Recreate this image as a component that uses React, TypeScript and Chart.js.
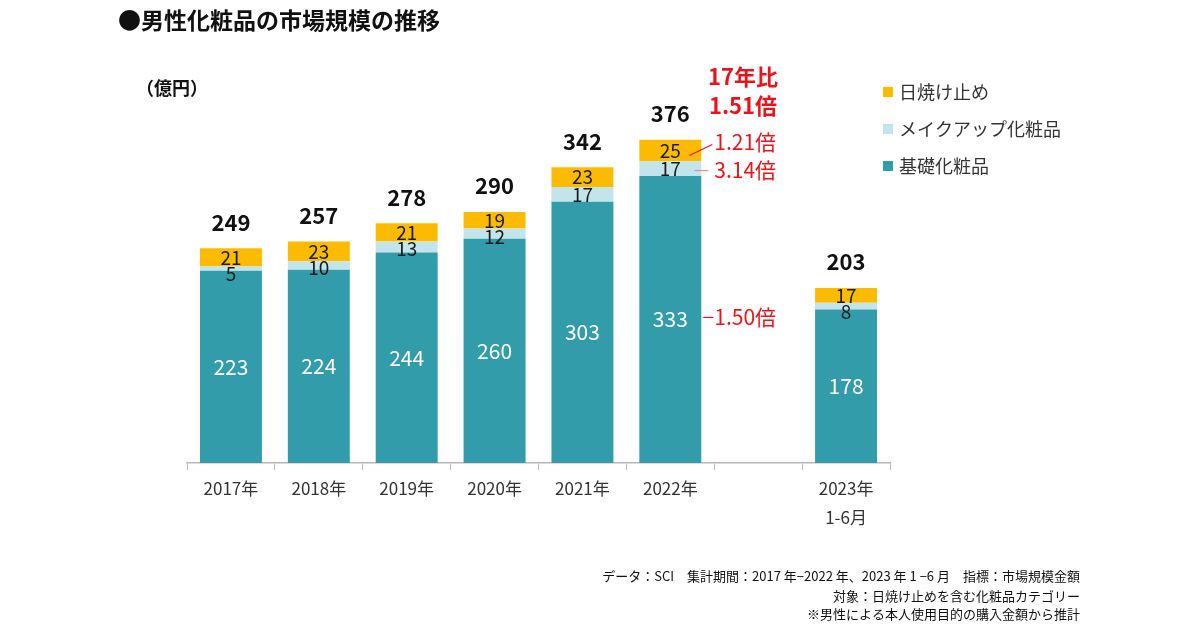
import React, { useEffect, useRef } from "react";
import { Chart, registerables } from "chart.js";
Chart.register(...registerables);

const categories: (string | string[])[] = ["2017年", "2018年", "2019年", "2020年", "2021年", "2022年", "", ["2023年", "1-6月"]];
const baseValues: (number | null)[] = [223, 224, 244, 260, 303, 333, null, 178];
const makeupValues: (number | null)[] = [5, 10, 13, 12, 17, 17, null, 8];
const sunValues: (number | null)[] = [21, 23, 21, 19, 23, 25, null, 17];
const totals: (number | null)[] = [249, 257, 278, 290, 342, 376, null, 203];
const seriesNames = ["基礎化粧品", "メイクアップ化粧品", "日焼け止め"];
const seriesColors = ["#329CAB", "#C2E4EA", "#FDBB00"];
const footnotes = [
  "データ：SCI　集計期間：2017 年−2022 年、2023 年 1 −6 月　指標：市場規模金額",
  "対象：日焼け止めを含む化粧品カテゴリー",
  "※男性による本人使用目的の購入金額から推計",
];

const JP = '"Noto Sans CJK JP", "Noto Sans", sans-serif';
const RED = "#E8131B";

const overlay = {
  id: "overlay",
  afterDatasetsDraw(chart: any) {
    const ctx = chart.ctx as CanvasRenderingContext2D;
    const m0 = chart.getDatasetMeta(0);
    const m1 = chart.getDatasetMeta(1);
    const m2 = chart.getDatasetMeta(2);
    ctx.save();
    ctx.textAlign = "center";
    ctx.textBaseline = "middle";
    for (let i = 0; i < categories.length; i++) {
      if (baseValues[i] == null) continue;
      const b0: any = m0.data[i];
      const b1: any = m1.data[i];
      const b2: any = m2.data[i];
      const x = b0.x;
      const baseMid = (b0.y + b0.base) / 2;
      const sunMid = (b2.y + b2.base) / 2;
      let mkMid = (b1.y + b1.base) / 2;
      mkMid = Math.max(mkMid, sunMid + 16);
      ctx.font = `21px ${JP}`;
      ctx.fillStyle = "#ffffff";
      ctx.fillText(String(baseValues[i]), x, baseMid);
      ctx.font = `19px ${JP}`;
      ctx.fillStyle = "#1a1a1a";
      ctx.fillText(String(sunValues[i]), x, sunMid);
      ctx.fillText(String(makeupValues[i]), x, mkMid);
      ctx.font = `bold 22px ${JP}`;
      ctx.fillStyle = "#111111";
      ctx.fillText(String(totals[i]), x, b2.y - 26);
    }

    // annotations for 2022
    const i22 = 5;
    const b0: any = m0.data[i22];
    const b1: any = m1.data[i22];
    const b2: any = m2.data[i22];
    const right = b0.x + b0.width / 2;
    const sunMid = (b2.y + b2.base) / 2;
    const mkMid = Math.max((b1.y + b1.base) / 2, sunMid + 16);
    const baseMid = (b0.y + b0.base) / 2;
    ctx.textAlign = "left";
    ctx.font = `21px ${JP}`;
    ctx.fillStyle = RED;
    ctx.strokeStyle = RED;
    ctx.lineWidth = 1.2;
    ctx.beginPath();
    ctx.moveTo(right - 12, sunMid + 5);
    ctx.lineTo(right + 11, sunMid - 6);
    ctx.stroke();
    ctx.fillText("1.21倍", right + 13, sunMid - 8);
    ctx.strokeStyle = "#F08A90";
    ctx.beginPath();
    ctx.moveTo(right - 7, mkMid + 2);
    ctx.lineTo(right + 7, mkMid + 2);
    ctx.stroke();
    ctx.fillText("3.14倍", right + 13, mkMid + 1);
    ctx.strokeStyle = RED;
    ctx.beginPath();
    ctx.moveTo(right + 2, baseMid - 2);
    ctx.lineTo(right + 12, baseMid - 2);
    ctx.stroke();
    ctx.fillText("1.50倍", right + 13, baseMid - 2);
    ctx.font = `bold 22px ${JP}`;
    ctx.textAlign = "center";
    ctx.fillText("17年比", 743, 77);
    ctx.fillText("1.51倍", 743, 106);

    // title and unit
    ctx.textAlign = "left";
    ctx.fillStyle = "#111";
    ctx.font = `bold 23px ${JP}`;
    ctx.fillText("●男性化粧品の市場規模の推移", 118, 20);
    ctx.font = `bold 18px ${JP}`;
    ctx.fillText("（億円）", 136, 88);

    // legend
    const legendOrder = [2, 1, 0];
    const legendY = [92, 129, 166];
    ctx.font = `18px ${JP}`;
    legendOrder.forEach((s, k) => {
      ctx.fillStyle = seriesColors[s];
      ctx.fillRect(883, legendY[k] - 5, 10, 10);
      ctx.fillStyle = "#333";
      ctx.fillText(seriesNames[s], 899, legendY[k]);
    });

    // footnotes
    ctx.textAlign = "right";
    ctx.font = `13px ${JP}`;
    ctx.fillStyle = "#111";
    const fy = [576, 596, 614];
    footnotes.forEach((t, k) => ctx.fillText(t, 1080, fy[k]));
    ctx.restore();
  },
};

export default function App() {
  const ref = useRef<HTMLCanvasElement | null>(null);
  useEffect(() => {
    if (!ref.current) return;
    const chart = new Chart(ref.current, {
      type: "bar",
      data: {
        labels: categories,
        datasets: [
          { label: seriesNames[0], data: baseValues, backgroundColor: seriesColors[0] },
          { label: seriesNames[1], data: makeupValues, backgroundColor: seriesColors[1] },
          { label: seriesNames[2], data: sunValues, backgroundColor: seriesColors[2] },
        ],
      },
      options: {
        responsive: false,
        animation: false,
        events: [],
        layout: { padding: { left: 187, right: 310, top: 75, bottom: 0 } },
        datasets: { bar: { barPercentage: 1, categoryPercentage: 0.705 } } as any,
        plugins: { legend: { display: false }, tooltip: { enabled: false } },
        scales: {
          x: {
            stacked: true,
            offset: true,
            grid: { display: true, drawOnChartArea: false, drawTicks: true, tickLength: 7, color: "#b8b8b8", offset: true },
            border: { display: true, color: "#b8b8b8", width: 1.5 },
            ticks: { color: "#333", font: { family: JP, size: 17, lineHeight: 1.65 }, padding: 5, maxRotation: 0, autoSkip: false },
            afterFit: (scale: any) => { scale.height = 167; },
          },
          y: { stacked: true, display: false, min: 0, max: 450 },
        },
      },
      plugins: [overlay],
    });
    return () => chart.destroy();
  }, []);
  return (
    <div style={{ position: "fixed", left: 0, top: 0, width: 1200, height: 630, background: "#fff" }}>
      <canvas ref={ref} width={1200} height={630} style={{ width: 1200, height: 630 }} />
    </div>
  );
}
